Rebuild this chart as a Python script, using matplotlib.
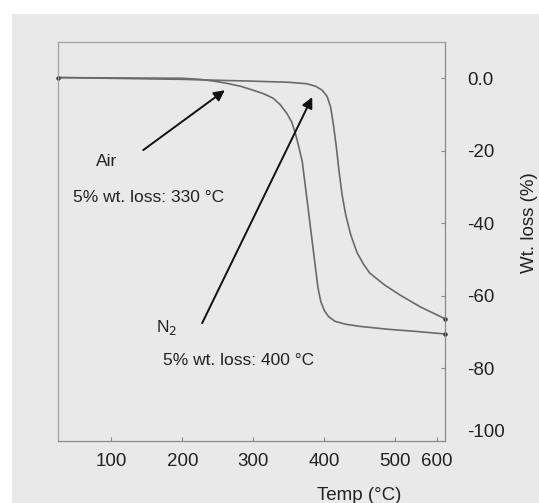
import numpy as np
import matplotlib.pyplot as plt
from matplotlib.patches import Rectangle

plt.rcParams['font.family'] = ['Liberation Sans', 'DejaVu Sans']

# TGA curves (temp in C, weight change in %)
air_T = [25, 100, 200, 225, 245, 263, 282, 300, 315, 328, 338, 347, 354, 359, 364, 369, 377, 384,
         391, 395, 400, 406, 415, 430, 450, 490, 530, 570]
air_W = [0.2, 0.1, 0.0, -0.3, -0.8, -1.4, -2.2, -3.3, -4.3, -5.5, -7.3, -9.6, -12.0, -15.0, -18.8,
         -23.0, -35.5, -46.6, -57.6, -61.5, -64.0, -65.7, -67.0, -67.8, -68.4, -69.2, -69.8, -70.5]

n2_T = [25, 200, 300, 350, 375, 388, 397, 404, 409, 413, 417, 421, 425, 430, 437, 446, 455, 464,
        485, 507, 535, 570]
n2_W = [0.2, -0.3, -0.8, -1.1, -1.5, -2.2, -3.3, -5.0, -8.0, -13.0, -19.0, -26.0, -32.0, -37.5,
        -43.0, -48.0, -51.2, -53.7, -57.0, -59.8, -63.0, -66.3]

xtick_pos = [100, 200, 300, 400, 500, 559]
xtick_lab = ['100', '200', '300', '400', '500', '600']
ytick_pos = [0, -20, -40, -60, -80, -100]
ytick_lab = ['0.0', '-20', '-40', '-60', '-80', '-100']

bg = '#e9e9e9'
txt = '#222222'

fig = plt.figure(figsize=(5.39, 5.03), dpi=100, facecolor='white')
fig.patches.append(Rectangle((12/539, 0), 1, 1 - 14/503, transform=fig.transFigure,
                             facecolor=bg, edgecolor='none', zorder=-10))

ax = fig.add_axes([58/539, 1 - 441/503, (445-58)/539, (441-42)/503])
ax.set_facecolor(bg)

ax.plot(air_T, air_W, color='#6a6a6a', lw=1.2)
ax.plot(n2_T, n2_W, color='#6a6a6a', lw=1.2)
ax.plot([air_T[0], air_T[-1], n2_T[-1]], [air_W[0], air_W[-1], n2_W[-1]], 'o',
        color='#333333', ms=2.2, clip_on=False)

ax.set_xlim(25, 570)
ax.set_ylim(-100, 10)

for s in ax.spines.values():
    s.set_color('#8a8a8a')
    s.set_linewidth(0.9)
for side in ('top', 'left'):
    ax.spines[side].set_color('#a0a0a0')
    ax.spines[side].set_linestyle((0, (3, 1)))

ax.yaxis.tick_right()
ax.set_xticks(xtick_pos, xtick_lab)
ax.set_yticks(ytick_pos, ytick_lab)
ax.tick_params(axis='x', direction='in', length=3, color='#8a8a8a', labelsize=13.5,
               labelcolor=txt, pad=9)
ax.tick_params(axis='y', direction='in', length=3, color='#8a8a8a', labelsize=13.5,
               labelcolor=txt, pad=16)
for lab in ax.get_yticklabels():
    lab.set_ha('left')
ax.get_yticklabels()[-1].set_va('bottom')

arrow = dict(arrowstyle='-|>', color='#111111', lw=1.4, mutation_scale=16, shrinkA=0, shrinkB=0)
ax.annotate('', xy=(260, -3.3), xytext=(145, -19.8), arrowprops=arrow)
ax.annotate('', xy=(383, -5.2), xytext=(228, -67.5), arrowprops=arrow)

ax.text(94, -23, 'Air', ha='center', va='center', fontsize=12.5, color=txt)
ax.text(46, -33, '5% wt. loss: 330 °C', ha='left', va='center', fontsize=12.5, color=txt)
ax.text(178, -68.6, 'N$_2$', ha='center', va='center', fontsize=12.5, color=txt)
ax.text(173, -77.7, '5% wt. loss: 400 °C', ha='left', va='center', fontsize=12.5, color=txt)

fig.text(530/539, 1 - 223/503, 'Wt. loss (%)', rotation=90, ha='center', va='center',
         fontsize=13.5, color=txt)
fig.text(359/539, 1 - 496/503, 'Temp (°C)', ha='center', va='center', fontsize=13.5, color=txt)

fig.savefig('out.png', dpi=100, facecolor=fig.get_facecolor())
